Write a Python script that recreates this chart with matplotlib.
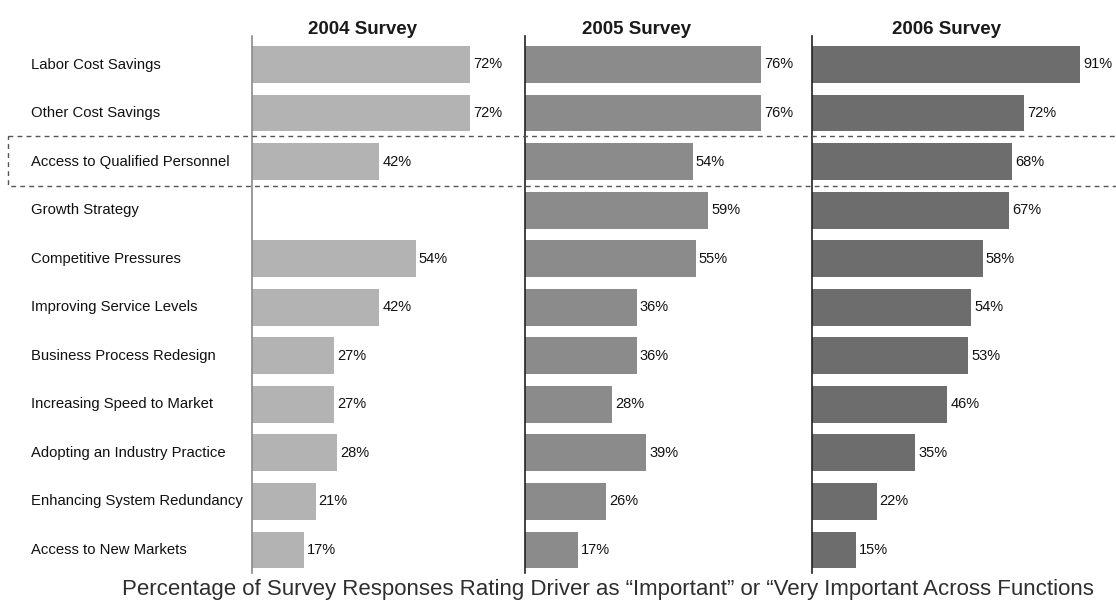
import matplotlib.pyplot as plt
import matplotlib.transforms as mtransforms
from matplotlib.patches import Rectangle

drivers = ['Labor Cost Savings', 'Other Cost Savings', 'Access to Qualified Personnel',
           'Growth Strategy', 'Competitive Pressures', 'Improving Service Levels',
           'Business Process Redesign', 'Increasing Speed to Market',
           'Adopting an Industry Practice', 'Enhancing System Redundancy',
           'Access to New Markets']
surveys = ['2004 Survey', '2005 Survey', '2006 Survey']
# None = driver not asked in that survey
pct_2004 = [72, 72, 42, None, 54, 42, 27, 27, 28, 21, 17]
pct_2005 = [76, 76, 54, 59, 55, 36, 36, 28, 39, 26, 17]
pct_2006 = [91, 72, 68, 67, 58, 54, 53, 46, 35, 22, 15]
highlight_row = 2
footer = 'Percentage of Survey Responses Rating Driver as \u201cImportant\u201d or \u201cVery Important Across Functions'

W, H = 1116, 604
fig = plt.figure(figsize=(W / 100, H / 100), dpi=100)
fig.patch.set_facecolor('white')

label_font = ['Liberation Sans', 'DejaVu Sans']

# panel geometry in pixels: (left, right, px per percent, title centre x)
panels = [(252, 525, 3.03, 362), (525, 812, 3.105, 636), (812, 1116, 2.945, 947)]
colors = ['#b3b3b3', '#8b8b8b', '#6d6d6d']
axis_colors = ['#8a8a8a', '#222222', '#222222']
top_px, bot_px = 36, 573
row0, step = 64.5, 48.55

data = [pct_2004, pct_2005, pct_2006]
axes = []
for (left, right, scale, tx), vals, col, acol, name in zip(panels, data, colors, axis_colors, surveys):
    ax = fig.add_axes([left / W, 1 - bot_px / H, (right - left) / W, (bot_px - top_px) / H])
    ax.set_xlim(0, (right - left) / scale)
    ax.set_ylim((bot_px - row0) / step, -(row0 - top_px) / step)
    for i, v in enumerate(vals):
        if v is None:
            continue
        ax.barh(i, v, height=0.76, color=col, edgecolor='none')
        ax.text(v + 1.0, i, f'{v}%', va='center', ha='left', fontsize=10.5,
                family=label_font, color='#111111')
    for s in ['top', 'right', 'bottom']:
        ax.spines[s].set_visible(False)
    ax.spines['left'].set_color(acol)
    ax.spines['left'].set_linewidth(1.2)
    ax.set_xticks([])
    ax.set_yticks([])
    ax.patch.set_alpha(0)
    fig.text(tx / W, 1 - 29 / H, name, ha='center', va='center', fontsize=13.5,
             fontweight='bold', family=label_font, color='#1a1a1a')
    axes.append(ax)

# category labels on the left
tr = mtransforms.blended_transform_factory(fig.transFigure, axes[0].transData)
for i, d in enumerate(drivers):
    fig.text(31 / W, i, d, transform=tr, ha='left', va='center', fontsize=10.7,
             family=label_font, color='#111111')

# dashed highlight box around one driver
box = Rectangle((8 / W, highlight_row - 0.53), 1.2, 1.04, transform=tr, fill=False,
                linestyle=(0, (3.5, 3)), edgecolor='#555555', linewidth=1.0, clip_on=False)
fig.add_artist(box)

fig.text(608 / W, 1 - 590 / H, footer, ha='center', va='center', fontsize=16,
         family=label_font, color='#2e2e2e')

fig.savefig('out.png', dpi=100, facecolor='white')
